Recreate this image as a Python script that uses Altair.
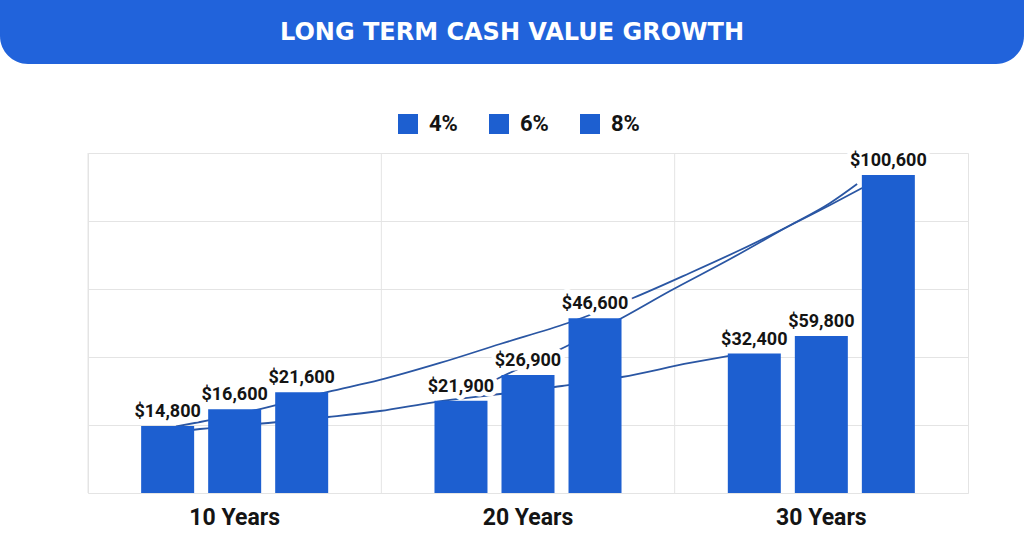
import altair as alt
import pandas as pd

# ---------------- data ----------------
title_text = "LONG TERM CASH VALUE GROWTH"
groups = ["10 Years", "20 Years", "30 Years"]
rates = ["4%", "6%", "8%"]
# values printed above the bars
label_values = [
    [14800, 16600, 21600],
    [21900, 26900, 46600],
    [32400, 59800, 100600],
]
# bar heights as drawn in the picture (gridlines every 20,000)
bar_heights = [
    [19700, 24600, 29600],
    [27150, 34700, 51400],
    [41000, 46200, 93500],
]
# trend curves: position along the x axis in group units (0..3) and height
curve1_pos = [0.300, 0.382, 0.614, 0.818, 0.995, 1.200, 1.405, 1.636, 1.858, 2.052, 2.223, 2.383, 2.530, 2.639]
curve1_val = [19560, 20880, 25290, 29710, 33240, 38240, 43820, 50000, 57350, 64710, 71470, 78240, 84710, 89710]
curve2_pos = [1.275, 1.394, 1.626, 1.820, 1.984, 2.189, 2.383, 2.530, 2.622]
curve2_val = [28530, 33530, 42940, 51470, 59410, 68820, 78240, 85290, 90880]
curve3_pos = [0.297, 0.382, 0.614, 0.818, 0.995, 1.183, 1.405, 1.616, 1.820, 2.052, 2.182]
curve3_val = [17940, 18820, 20590, 22350, 24120, 26760, 29120, 31470, 34120, 38240, 40290]

# ---------------- styles ----------------
BLUE = "#1d5fd0"
BANNER = "#2163db"
LINE = "#2a56a3"
GRID = "#e4e4e4"
TXT = "#141414"

rows = []
for gi, g in enumerate(groups):
    for ri, r in enumerate(rates):
        rows.append({
            "group": g,
            "rate": r,
            "height": bar_heights[gi][ri],
            "label": "${:,}".format(label_values[gi][ri]),
        })
bars_df = pd.DataFrame(rows)

lrows = []
for name, ps, vs in [("a", curve1_pos, curve1_val), ("b", curve2_pos, curve2_val), ("c", curve3_pos, curve3_val)]:
    for i, (p, v) in enumerate(zip(ps, vs)):
        lrows.append({"curve": name, "idx": i, "pos": p, "height": v})
lines_df = pd.DataFrame(lrows)

groups_df = pd.DataFrame({"group": groups})

yscale = alt.Scale(domain=[0, 100000], nice=False, zero=True)
yaxis = alt.Axis(values=[0, 20000, 40000, 60000, 80000, 100000], labels=False, ticks=False,
                 domain=False, title=None, grid=True, gridColor=GRID, gridWidth=1)
xscale = alt.Scale(domain=groups, paddingInner=0, paddingOuter=0)
xaxis = alt.Axis(title=None, labelAngle=0, ticks=False, domain=False, grid=False,
                 labelFont="Roboto", labelFontSize=23, labelFontWeight="bold",
                 labelColor=TXT, labelPadding=13)
xoff = alt.XOffset("rate:N", sort=rates, scale=alt.Scale(domain=rates, paddingInner=0.209, paddingOuter=0.793))

vgrid = alt.Chart(groups_df).mark_rule(color=GRID, strokeWidth=1).encode(
    x=alt.X("group:N", sort=groups, scale=xscale, axis=None, bandPosition=0),
    y=alt.value(0), y2=alt.value(340),
)

curves = alt.Chart(lines_df).mark_line(interpolate="monotone", color=LINE, strokeWidth=1.8).encode(
    x=alt.X("pos:Q", scale=alt.Scale(domain=[0, 3], nice=False, zero=False), axis=None),
    y=alt.Y("height:Q", scale=yscale, axis=yaxis),
    detail="curve:N",
    order="idx:Q",
)

bars = alt.Chart(bars_df).mark_bar(size=53).encode(
    x=alt.X("group:N", sort=groups, scale=xscale, axis=xaxis),
    xOffset=xoff,
    y=alt.Y("height:Q", scale=yscale, axis=yaxis),
    color=alt.Color("rate:N", sort=rates,
                    scale=alt.Scale(domain=rates, range=[BLUE, BLUE, BLUE]),
                    legend=alt.Legend(title=None, orient="none", direction="horizontal",
                                      legendX=309, legendY=-40, symbolType="square",
                                      symbolSize=400, symbolStrokeWidth=0, symbolOpacity=1,
                                      labelFont="Roboto", labelFontSize=22, labelFontWeight="bold",
                                      labelColor=TXT, labelOffset=10, columnPadding=30)),
)

halo = alt.Chart(bars_df).mark_text(font="Roboto", fontSize=18, fontWeight="bold", dy=-9,
                                    baseline="alphabetic", align="center",
                                    stroke="white", strokeWidth=9, strokeJoin="round", color="white").encode(
    x=alt.X("group:N", sort=groups, scale=xscale, axis=None),
    xOffset=xoff,
    y=alt.Y("height:Q", scale=yscale, axis=yaxis),
    text="label:N",
)

labels = alt.Chart(bars_df).mark_text(font="Roboto", fontSize=18, fontWeight="bold", dy=-9,
                                      baseline="alphabetic", align="center", color=TXT).encode(
    x=alt.X("group:N", sort=groups, scale=xscale, axis=None),
    xOffset=xoff,
    y=alt.Y("height:Q", scale=yscale, axis=yaxis),
    text="label:N",
)

title_df = pd.DataFrame({"t": [title_text]})
banner = alt.Chart(title_df).mark_rect(color=BANNER, cornerRadiusBottomLeft=28,
                                       cornerRadiusBottomRight=28).encode(
    x=alt.value(-88), x2=alt.value(936), y=alt.value(-153), y2=alt.value(-89),
)
title = alt.Chart(title_df).mark_text(font="DejaVu Sans", fontSize=24, fontWeight="bold",
                                      color="white", align="center", baseline="middle").encode(
    x=alt.value(424), y=alt.value(-120), text="t:N",
)

chart = alt.layer(vgrid, curves, bars, halo, labels, banner, title).resolve_scale(
    x="independent"
).properties(
    width=880, height=340,
    padding={"left": 88, "top": 153, "right": 56, "bottom": 66},
    autosize=alt.AutoSizeParams(type="none"),
    background="white",
).configure_view(stroke=GRID, strokeWidth=1)

chart.save("out.html", embed_options={"renderer": "svg", "actions": False})
